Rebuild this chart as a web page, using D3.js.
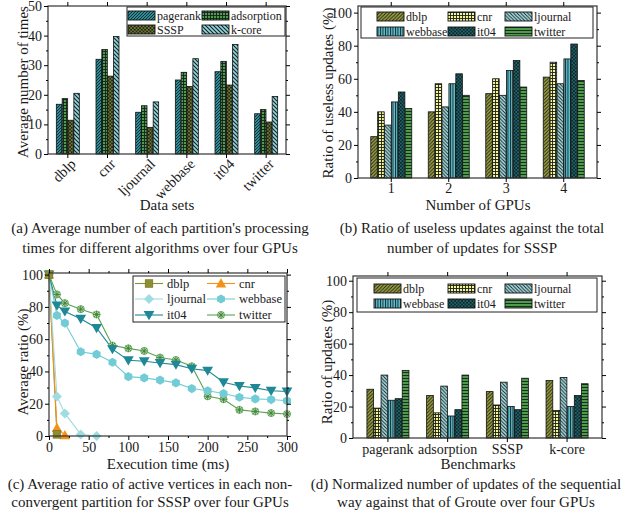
<!DOCTYPE html>
<html>
<head>
<meta charset="utf-8">
<script src="https://cdn.jsdelivr.net/npm/d3@7"></script>
<style>
body { margin: 0; background: #fff; }
text { font-family: "Liberation Serif", "Times New Roman", serif; fill: #1a1a1a; }
</style>
</head>
<body>
<div id="container"></div>
<script>

// ---- data (a)
var aDatasets = ["dblp", "cnr", "ljournal", "webbase", "it04", "twitter"];
var aAlgos = ["pagerank", "adsorption", "SSSP", "k-core"];
var aPagerank = [16.8, 32, 14.1, 25, 27.8, 13.6];
var aAdsorption = [18.7, 35.3, 16.3, 27.6, 31.3, 15];
var aSSSP = [11.4, 26.3, 9, 22.8, 23.3, 10.8];
var aKcore = [20.5, 39.7, 17.6, 32.2, 37, 19.4];

// ---- data (b)
var bGpus = ["1", "2", "3", "4"];
var graphs = ["dblp", "cnr", "ljournal", "webbase", "it04", "twitter"];
var bDblp = [25, 40, 51, 61];
var bCnr = [40, 57, 60, 70];
var bLjournal = [32, 43, 50, 57];
var bWebbase = [46, 57, 65, 72];
var bIt04 = [52, 63, 71, 81];
var bTwitter = [42, 50, 55, 59];

// ---- data (c)
var cTime = [0, 10, 20, 40, 60, 80, 100, 120, 140, 160, 180, 200, 220, 240, 260, 280, 300];
var cDblp = [100, 1];
var cCnr = [100, 5, 0.5];
var cLjournal = [100, 24.5, 14, 1, 0];
var cWebbase = [100, 74.7, 70, 52.2, 50.6, 45.7, 36.8, 36, 34.6, 32.9, 29.4, 28, 26.3, 24, 23, 22.6, 21.8];
var cIt04 = [100, 80.9, 77.2, 72.6, 66.9, 53.8, 46.9, 46.3, 45.2, 44.2, 41.7, 40.5, 33.3, 31, 29.8, 28, 27.6];
var cTwitter = [100, 87.7, 82.3, 78.6, 75.3, 56, 54.3, 52.7, 48.6, 47.1, 43.2, 24.6, 22.8, 16.2, 15.2, 14.2, 13.6];

// ---- data (d)
var dBench = ["pagerank", "adsorption", "SSSP", "k-core"];
var dDblp = [31, 27, 29.5, 36.5];
var dCnr = [19, 16, 21, 17.5];
var dLjournal = [40, 33, 35.5, 38.5];
var dWebbase = [24, 14, 20, 20];
var dIt04 = [25, 18, 18, 27];
var dTwitter = [43, 40, 38, 34.5];

var tickFont = 14, titleFont = 15, legendFont = 12;

// ---- svg
var svg = d3.select("#container")
    .append("svg")
    .attr("width", 629)
    .attr("height", 516);

var defs = svg.append("defs");

// hatch patterns
function pattern(id, bg, kind, s, sw) {
    var p = defs.append("pattern")
        .attr("id", id)
        .attr("patternUnits", "userSpaceOnUse")
        .attr("width", s).attr("height", s);
    p.append("rect").attr("width", s).attr("height", s).attr("fill", bg);
    var fwd = "M0," + s + "L" + s + ",0M" + (-s / 2) + "," + (s / 2) + "L" + (s / 2) + "," + (-s / 2) +
        "M" + (s / 2) + "," + (s * 1.5) + "L" + (s * 1.5) + "," + (s / 2);
    var back = "M0,0L" + s + "," + s + "M" + (-s / 2) + "," + (s / 2) + "L" + (s / 2) + "," + (s * 1.5) +
        "M" + (s / 2) + "," + (-s / 2) + "L" + (s * 1.5) + "," + (s / 2);
    var d = {
        fwd: fwd,
        back: back,
        cross: fwd + back,
        grid: "M0,0.5H" + s + "M0.5,0V" + s,
        vert: "M0.5,0V" + s,
        horiz: "M0,0.5H" + s
    }[kind];
    p.append("path").attr("d", d).attr("stroke", "#142020").attr("stroke-width", sw || 0.9).attr("fill", "none");
}

pattern("p-pagerank", "#2b8e99", "fwd", 3);
pattern("p-adsorption", "#4f9d48", "grid", 3);
pattern("p-SSSP", "#9c9a2e", "cross", 3.5);
pattern("p-k-core", "#92d5dc", "back", 4, 1.1);

pattern("p-dblp", "#a3a23c", "fwd", 3.5);
pattern("p-cnr", "#f9f393", "grid", 3);
pattern("p-ljournal", "#a8dfe4", "back", 3.5);
pattern("p-webbase", "#5dbecd", "vert", 2.5);
pattern("p-it04", "#1c808d", "cross", 3.5);
pattern("p-twitter", "#4d9c48", "horiz", 3);

// axes helpers
function yAxes(g, y, x0, x1, major, minor) {
    g.append("g").attr("transform", "translate(" + x0 + ",0)")
        .call(d3.axisLeft(y).tickValues(major).tickSize(4).tickSizeOuter(0).tickPadding(2))
        .call(function (a) { a.select(".domain").remove(); a.selectAll("text").attr("font-size", tickFont).attr("fill", "#1a1a1a"); });
    g.append("g").attr("transform", "translate(" + x0 + ",0)")
        .call(d3.axisLeft(y).tickValues(minor).tickSize(2).tickFormat(""))
        .call(function (a) { a.select(".domain").remove(); });
    g.append("g").attr("transform", "translate(" + x1 + ",0)")
        .call(d3.axisRight(y).tickValues(major).tickSize(4).tickFormat(""))
        .call(function (a) { a.select(".domain").remove(); });
    g.append("g").attr("transform", "translate(" + x1 + ",0)")
        .call(d3.axisRight(y).tickValues(minor).tickSize(2).tickFormat(""))
        .call(function (a) { a.select(".domain").remove(); });
}

function xAxes(g, axB, axT, yT, yB) {
    var b = g.append("g").attr("transform", "translate(0," + yB + ")")
        .call(axB)
        .call(function (a) { a.select(".domain").remove(); a.selectAll("text").attr("font-size", tickFont).attr("fill", "#1a1a1a"); });
    g.append("g").attr("transform", "translate(0," + yT + ")")
        .call(axT.tickFormat(""))
        .call(function (a) { a.select(".domain").remove(); });
    return b;
}

function frame(g, x0, x1, yT, yB) {
    g.append("rect")
        .attr("x", x0).attr("y", yT)
        .attr("width", x1 - x0).attr("height", yB - yT)
        .attr("fill", "none").attr("stroke", "#333").attr("stroke-width", 1.2);
}

function label(g, txt, x, y, size, rot) {
    g.append("text")
        .attr("transform", "translate(" + x + "," + y + ")" + (rot ? " rotate(-90)" : ""))
        .attr("text-anchor", "middle")
        .attr("font-size", size)
        .text(txt);
}

function patchLegend(g, names, box, cols, rows) {
    g.append("rect")
        .attr("x", box[0]).attr("y", box[1])
        .attr("width", box[2] - box[0]).attr("height", box[3] - box[1])
        .attr("fill", "#fff").attr("stroke", "#222").attr("stroke-width", 1);
    names.forEach(function (n, i) {
        var cx = cols[i % cols.length], cy = rows[Math.floor(i / cols.length)];
        g.append("rect").attr("x", cx).attr("y", cy).attr("width", 27).attr("height", 9)
            .attr("fill", "url(#p-" + n + ")").attr("stroke", "#111").attr("stroke-width", 0.9);
        g.append("text").attr("x", cx + 29).attr("y", cy + 8.8).attr("font-size", legendFont).text(n);
    });
}

function groupedBars(g, x0, x1, y, cats, names, values) {
    names.forEach(function (n, j) {
        g.selectAll(".bar-" + j)
            .data(values[j])
            .enter()
            .append("rect")
            .attr("x", function (d, i) { return x0(cats[i]) + x1(n); })
            .attr("y", function (d) { return y(d); })
            .attr("width", x1.bandwidth())
            .attr("height", function (d) { return y(0) - y(d); })
            .attr("fill", "url(#p-" + n + ")")
            .attr("stroke", "#111")
            .attr("stroke-width", 0.8);
    });
}

// ================= (a)
var ga = svg.append("g");
var ax0 = d3.scaleBand().domain(aDatasets).range([48, 286]).paddingInner(0.42).paddingOuter(0.21);
var ax1 = d3.scaleBand().domain(aAlgos).range([0, ax0.bandwidth()]).paddingInner(0.06);
var ay = d3.scaleLinear().domain([0, 50]).range([154, 6]);

groupedBars(ga, ax0, ax1, ay, aDatasets, aAlgos, [aPagerank, aAdsorption, aSSSP, aKcore]);
frame(ga, 48, 286, 6, 154);
yAxes(ga, ay, 48, 286, d3.range(0, 51, 10), d3.range(5, 50, 10));
var axa = xAxes(ga, d3.axisBottom(ax0).tickSize(4).tickSizeOuter(0),
    d3.axisTop(ax0).tickSize(4).tickSizeOuter(0), 6, 154);
axa.selectAll("text")
    .attr("text-anchor", "end")
    .attr("transform", "rotate(-45)")
    .attr("dx", "-0.1em").attr("dy", "0.55em")
    .attr("x", 0).attr("y", 6)
    .attr("font-size", 14.5);
patchLegend(ga, aAlgos, [127, 7, 285, 36], [128, 202], [11, 25]);
label(ga, "Average number of  times", 28, 82, titleFont, true);
label(ga, "Data sets", 167, 210, titleFont);
label(ga, "(a) Average number of each partition's processing", 160, 233, titleFont);
label(ga, "times for different algorithms over four GPUs", 160, 253, titleFont);

// ================= (b)
var gb = svg.append("g");
var bx0 = d3.scaleBand().domain(bGpus).range([358, 597]).paddingInner(0.287).paddingOuter(0.222);
var bx1 = d3.scaleBand().domain(graphs).range([0, bx0.bandwidth()]).paddingInner(0.05);
var by = d3.scaleLinear().domain([0, 104]).range([178, 6]);

groupedBars(gb, bx0, bx1, by, bGpus, graphs, [bDblp, bCnr, bLjournal, bWebbase, bIt04, bTwitter]);
frame(gb, 358, 597, 6, 178);
yAxes(gb, by, 358, 597, d3.range(0, 101, 20), d3.range(10, 100, 20));
xAxes(gb, d3.axisBottom(bx0).tickSize(4).tickSizeOuter(0).tickPadding(1),
    d3.axisTop(bx0).tickSize(4).tickSizeOuter(0), 6, 178);
patchLegend(gb, graphs, [361, 7, 593, 38], [377, 448, 505], [12, 27]);
label(gb, "Ratio of  useless updates (%)", 333, 93, titleFont, true);
label(gb, "Number of GPUs", 478, 210, titleFont);
label(gb, "(b) Ratio of useless updates against the total", 472, 233, titleFont);
label(gb, "number of updates for SSSP", 472, 253, titleFont);

// ================= (c)
var gc = svg.append("g");
var cx = d3.scaleLinear().domain([0, 300]).range([49, 287]);
var cy = d3.scaleLinear().domain([0, 101]).range([436, 273]);

var cSeries = [
    { name: "dblp", v: cDblp, color: "#8f8f2f", mk: "square" },
    { name: "cnr", v: cCnr, color: "#f39118", mk: "up" },
    { name: "ljournal", v: cLjournal, color: "#9edce2", mk: "diamond" },
    { name: "webbase", v: cWebbase, color: "#72ccd6", mk: "hex" },
    { name: "it04", v: cIt04, color: "#1e8896", mk: "down" },
    { name: "twitter", v: cTwitter, color: "#5ca152", mk: "star" }
];

function marker(g, type, x, y, color) {
    var m = g.append("g").attr("transform", "translate(" + x + "," + y + ")");
    if (type === "square") {
        m.append("rect").attr("x", -3.8).attr("y", -3.8).attr("width", 7.6).attr("height", 7.6)
            .attr("fill", color).attr("stroke", "#6d6d20").attr("stroke-width", 0.6);
    } else if (type === "up") {
        m.append("path").attr("d", "M0,-5.2L5.2,4L-5.2,4Z").attr("fill", color);
    } else if (type === "down") {
        m.append("path").attr("d", "M0,5.2L5.4,-4L-5.4,-4Z").attr("fill", color);
    } else if (type === "diamond") {
        m.append("path").attr("d", "M0,-5L5,0L0,5L-5,0Z").attr("fill", color);
    } else if (type === "hex") {
        var pts = d3.range(6).map(function (k) {
            var a = Math.PI / 3 * k + Math.PI / 6;
            return [4.6 * Math.cos(a), 4.6 * Math.sin(a)];
        });
        m.append("path").attr("d", "M" + pts.join("L") + "Z").attr("fill", color);
    } else if (type === "star") {
        m.append("circle").attr("r", 3.6).attr("fill", "#b7dcae").attr("stroke", color).attr("stroke-width", 0.7);
        m.append("path").attr("d", "M-3.6,0H3.6M0,-3.6V3.6M-2.6,-2.6L2.6,2.6M-2.6,2.6L2.6,-2.6")
            .attr("stroke", "#3d7f37").attr("stroke-width", 0.9);
    }
}

var line = d3.line()
    .x(function (d, i) { return cx(cTime[i]); })
    .y(function (d) { return cy(d); });

cSeries.forEach(function (s) {
    gc.append("path").datum(s.v)
        .attr("d", line)
        .attr("fill", "none")
        .attr("stroke", s.color)
        .attr("stroke-width", 1.1);
});
cSeries.slice().reverse().forEach(function (s) {
    s.v.forEach(function (d, i) { marker(gc, s.mk, cx(cTime[i]), cy(d), s.color); });
});

frame(gc, 49, 287, 273, 436);
yAxes(gc, cy, 49, 287, d3.range(0, 101, 20), d3.range(10, 100, 20));
xAxes(gc, d3.axisBottom(cx).tickValues(d3.range(0, 301, 50)).tickSize(4).tickSizeOuter(0).tickPadding(2),
    d3.axisTop(cx).tickValues(d3.range(0, 301, 50)).tickSize(4).tickSizeOuter(0), 273, 436);
gc.append("g").attr("transform", "translate(0,436)")
    .call(d3.axisBottom(cx).tickValues(d3.range(25, 300, 50)).tickSize(2).tickFormat(""))
    .call(function (a) { a.select(".domain").remove(); });
gc.append("g").attr("transform", "translate(0,273)")
    .call(d3.axisTop(cx).tickValues(d3.range(25, 300, 50)).tickSize(2).tickFormat(""))
    .call(function (a) { a.select(".domain").remove(); });

// legend (c)
gc.append("rect").attr("x", 133).attr("y", 276).attr("width", 152).attr("height", 46)
    .attr("fill", "#fff").attr("stroke", "#222").attr("stroke-width", 1);
var cCols = [135, 207], cRows = [283.5, 299, 315];
cSeries.forEach(function (s, i) {
    var lx = cCols[i % 2], ly = cRows[Math.floor(i / 2)];
    gc.append("line").attr("x1", lx).attr("x2", lx + 28).attr("y1", ly).attr("y2", ly)
        .attr("stroke", s.color).attr("stroke-width", 1.1);
    marker(gc, s.mk, lx + 14, ly, s.color);
    gc.append("text").attr("x", lx + 32).attr("y", ly + 4.3).attr("font-size", 12.5).text(s.name);
});

label(gc, "Average ratio (%)", 28, 362, titleFont, true);
label(gc, "Execution time (ms)", 168, 469, titleFont);
label(gc, "(c) Average ratio of active vertices in each non-", 150, 489, titleFont);
label(gc, "convergent partition for SSSP over four GPUs", 150, 507, titleFont);

// ================= (d)
var gd = svg.append("g");
var dx0 = d3.scaleBand().domain(dBench).range([353, 602]).paddingInner(0.296).paddingOuter(0.233);
var dx1 = d3.scaleBand().domain(graphs).range([0, dx0.bandwidth()]).paddingInner(0.05);
var dy = d3.scaleLinear().domain([0, 103]).range([438, 276]);

groupedBars(gd, dx0, dx1, dy, dBench, graphs, [dDblp, dCnr, dLjournal, dWebbase, dIt04, dTwitter]);
frame(gd, 353, 602, 276, 438);
yAxes(gd, dy, 353, 602, d3.range(0, 101, 20), d3.range(10, 100, 20));
xAxes(gd, d3.axisBottom(dx0).tickSize(4).tickSizeOuter(0).tickPadding(2),
    d3.axisTop(dx0).tickSize(4).tickSizeOuter(0), 276, 438);
patchLegend(gd, graphs, [357, 278, 597, 312], [374, 448, 505], [284, 299]);
label(gd, "Ratio of updates (%)", 332, 362, titleFont, true);
label(gd, "Benchmarks", 478, 469, titleFont);
label(gd, "(d) Normalized number of updates of the sequential", 466, 489, titleFont);
label(gd, "way against that of Groute over four GPUs", 466, 507, titleFont);

</script>
</body>
</html>
